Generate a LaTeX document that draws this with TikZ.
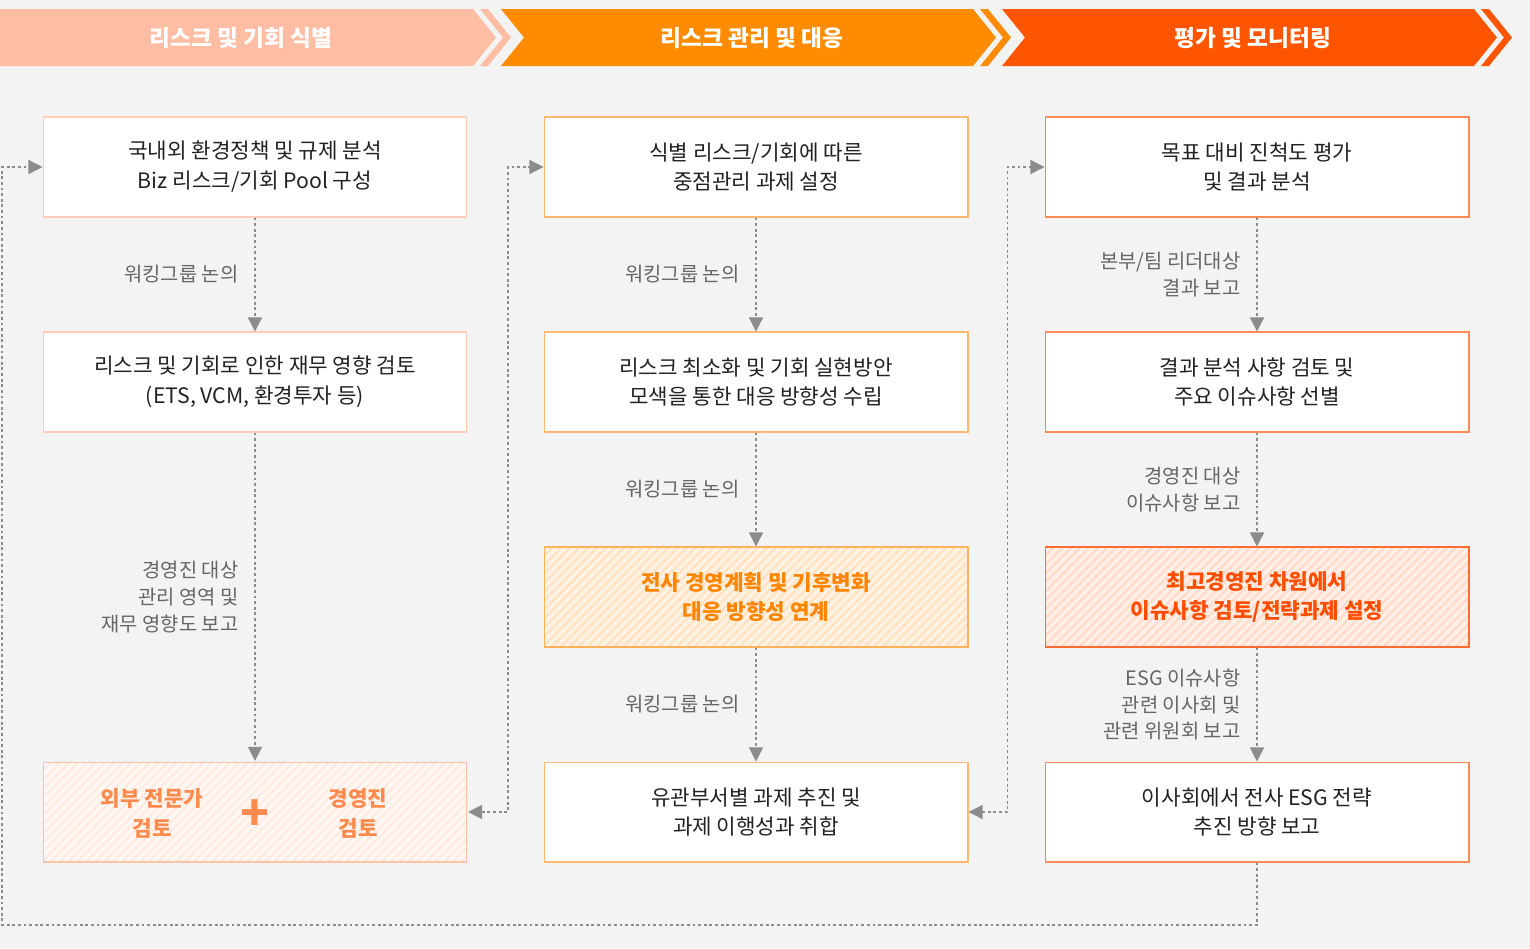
\documentclass[tikz,border=0pt]{standalone}
\usepackage{fontspec}
\setmainfont{Noto Sans CJK KR}
\usetikzlibrary{arrows.meta,positioning,patterns.meta}
\definecolor{paper}{HTML}{F3F3F3}
\definecolor{barA}{HTML}{FFBEA3}
\definecolor{barB}{HTML}{FF8C00}
\definecolor{barC}{HTML}{FF5500}
\definecolor{lineA}{HTML}{FFCDB8}
\definecolor{lineB}{HTML}{FFB870}
\definecolor{lineC}{HTML}{FF8A55}
\definecolor{ink}{HTML}{222222}
\definecolor{lblgray}{HTML}{666666}
\definecolor{linkgray}{HTML}{8C8C8C}
\definecolor{hlAfill}{HTML}{FFF7F2}
\definecolor{hlAstripe}{HTML}{FFEBE1}
\definecolor{hlAline}{HTML}{FFC2A6}
\definecolor{hlAtext}{HTML}{FF8A4D}
\definecolor{hlBfill}{HTML}{FFF2E2}
\definecolor{hlBstripe}{HTML}{FFE3C4}
\definecolor{hlBline}{HTML}{FFB25C}
\definecolor{hlBtext}{HTML}{FF8400}
\definecolor{hlCfill}{HTML}{FFEFE7}
\definecolor{hlCstripe}{HTML}{FFDCCB}
\definecolor{hlCline}{HTML}{FF6B33}
\definecolor{hlCtext}{HTML}{FF4D00}

\begin{document}
\begin{tikzpicture}[x=0.02cm,y=-0.02cm,>={Triangle[length=8pt,width=8pt]},
   box/.style={draw=#1,fill=white,line width=0.6pt,minimum width=8.48cm,minimum height=2cm,
     align=center,text=ink,font=\fontsize{12.1}{17}\selectfont},
   hot/.style={box=hl#1line,preaction={fill=hl#1fill},
     pattern={Lines[angle=45,distance=3.6pt,line width=1.3pt]},pattern color=hl#1stripe,
     text=hl#1text,font=\fontsize{12.1}{17}\selectfont\bfseries},
   hottext/.style={align=center,text=hlAtext,font=\fontsize{12.1}{17}\selectfont\bfseries},
   head/.style={text=white,font=\fontsize{12.9}{14}\selectfont\bfseries},
   flow/.style={draw=linkgray,line width=0.7pt,dash pattern=on 1.6pt off 1.6pt},
   lbl/.style={left,inner sep=0pt,xshift=-0.32cm,align=right,text=lblgray,
     font=\fontsize{11.3}{15.3}\selectfont}]
  \useasboundingbox (0,0) rectangle (1530,948);
  \fill[paper] (0,0) rectangle (1530,948);
  % stage bars with chevron ends
  \fill[barA] (0,9) -- (473,9) -- (496,37.5) -- (473,66) -- (0,66) -- cycle;
  \fill[barB] (501,9) -- (973,9) -- (996,37.5) -- (973,66) -- (501,66) -- (524,37.5) -- cycle;
  \fill[barC] (1002,9) -- (1474,9) -- (1497,37.5) -- (1474,66) -- (1002,66) -- (1025,37.5) -- cycle;
  \foreach \s/\c in {480/barA,980/barB,1481/barC}
    \fill[\c] (\s,9) -- ++(8,0) -- ++(23,28.5) -- ++(-23,28.5) -- ++(-8,0) -- ++(23,-28.5) -- cycle;
  \node[head] (h1) at (241,38) {리스크 및 기회 식별};
  \node[head] (h2) at (752,38) {리스크 관리 및 대응};
  \node[head] (h3) at (1253,38) {평가 및 모니터링};

  % column 1
  \node[box=lineA] (a1) at (255,167) {국내외 환경정책 및 규제 분석\\Biz 리스크/기회 Pool 구성};
  \node[box=lineA] (a2) at (255,382) {리스크 및 기회로 인한 재무 영향 검토\\(ETS, VCM, 환경투자 등)};
  \node[hot=A] (a4) at (255,812) {};
  \node[hottext] (a4l) at (152,813) {외부 전문가\\검토};
  \node[hottext] (a4r) at (358,813) {경영진\\검토};
  \node[text=hlAtext,font=\fontsize{27}{27}\selectfont\bfseries] (plus) at (255,815) {+};

  % column 2
  \node[box=lineB] (b1) at (756,167) {식별 리스크/기회에 따른\\중점관리 과제 설정};
  \node[box=lineB] (b2) at (756,382) {리스크 최소화 및 기회 실현방안\\모색을 통한 대응 방향성 수립};
  \node[hot=B] (b3) at (756,597) {전사 경영계획 및 기후변화\\대응 방향성 연계};
  \node[box=lineB] (b4) at (756,812) {유관부서별 과제 추진 및\\과제 이행성과 취합};

  % column 3
  \node[box=lineC] (c1) at (1257,167) {목표 대비 진척도 평가\\및 결과 분석};
  \node[box=lineC] (c2) at (1257,382) {결과 분석 사항 검토 및\\주요 이슈사항 선별};
  \node[hot=C] (c3) at (1257,597) {최고경영진 차원에서\\이슈사항 검토/전략과제 설정};
  \node[box=lineC] (c4) at (1257,812) {이사회에서 전사 ESG 전략\\추진 방향 보고};

  % downward flows
  \draw[flow,->] (a1) -- node[lbl]{워킹그룹 논의} (a2);
  \draw[flow,->] (a2) -- node[lbl]{경영진 대상\\관리 영역 및\\재무 영향도 보고} (a4);
  \draw[flow,->] (b1) -- node[lbl]{워킹그룹 논의} (b2);
  \draw[flow,->] (b2) -- node[lbl]{워킹그룹 논의} (b3);
  \draw[flow,->] (b3) -- node[lbl]{워킹그룹 논의} (b4);
  \draw[flow,->] (c1) -- node[lbl]{본부/팀 리더대상\\결과 보고} (c2);
  \draw[flow,->] (c2) -- node[lbl]{경영진 대상\\이슈사항 보고} (c3);
  \draw[flow,->] (c3) -- node[lbl]{ESG 이슈사항\\관련 이사회 및\\관련 위원회 보고} (c4);

  % links between columns and the return loop
  \draw[flow,<->] (a4.east) -- ++(40,0) |- (b1.west);
  \draw[flow,<->] (b4.east) -- ++(39,0) |- (c1.west);
  \coordinate (loop) at (2,925);
  \draw[flow,->] (c4.south) |- (loop) |- (a1.west);
\end{tikzpicture}
\end{document}
